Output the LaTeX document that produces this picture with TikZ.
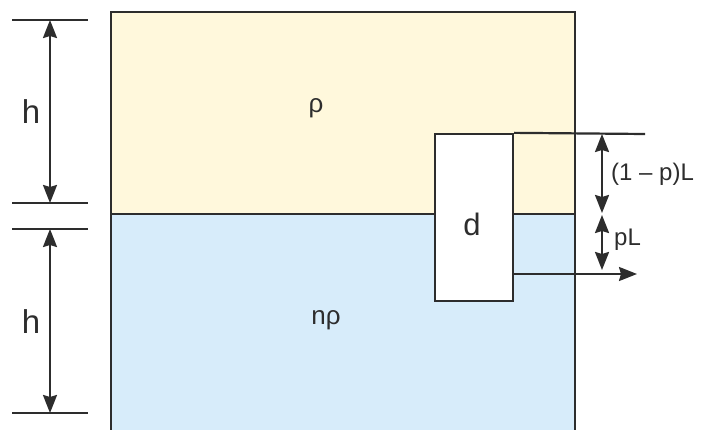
\documentclass[tikz,border=0pt]{standalone}
\usepackage{fontspec}
\setmainfont{Liberation Sans}
\usetikzlibrary{positioning,arrows.meta}
\definecolor{oil}{RGB}{255,248,220}
\definecolor{water}{RGB}{215,236,250}
\definecolor{ink}{RGB}{45,45,45}
\tikzset{
  wall/.style = {draw=ink, line width=2.3pt},
  tick/.style = {draw=ink, line width=2.2pt},
  dim/.style = {draw=ink, line width=2.2pt, {Stealth[length=18pt,width=14pt,inset=2pt]}-{Stealth[length=18pt,width=14pt,inset=2pt]}},
  flowarrow/.style = {draw=ink, line width=2.2pt, -{Stealth[length=18pt,width=14pt,inset=2pt]}},
  blockbox/.style = {draw=ink, line width=2.3pt, fill=white, minimum width=78pt, minimum height=167pt, inner sep=0pt},
  lbl/.style = {text=ink, inner sep=0pt, font=\fontsize{24}{28}\selectfont}
}
\begin{document}
\begin{tikzpicture}[x=1pt,y=-1pt]
        \useasboundingbox (0,0) rectangle (717,430);
        %Liquids
        \fill[oil] (111,12) rectangle (575,214);
        \fill[water] (111,214) rectangle (575,430);
        \draw[wall] (111,430) -- (111,12) -- (575,12) -- (575,430);
        \draw[wall] (111,214) -- (575,214);
        \node [lbl, font=\fontsize{26}{30}\selectfont] (rho1) at (316,108) {ρ};
        \node [lbl, font=\fontsize{26}{30}\selectfont] (rho2) at (326,320) {nρ};
        %Block
        \node [blockbox] (block) at (474,217.5) {};
        \node [lbl, font=\fontsize{31}{35}\selectfont] (dlabel) at (472,224) {d};
        %Left heights
        \coordinate (t1) at (12,20);  \coordinate (t1e) at (88,20);
        \coordinate (t2) at (12,203); \coordinate (t2e) at (88,203);
        \coordinate (t3) at (12,229); \coordinate (t3e) at (88,229);
        \coordinate (t4) at (12,413); \coordinate (t4e) at (88,413);
        \draw[tick] (t1) -- (t1e);
        \draw[tick] (t2) -- (t2e);
        \draw[tick] (t3) -- (t3e);
        \draw[tick] (t4) -- (t4e);
        \draw[dim] (50,20) -- (50,203);
        \draw[dim] (50,229) -- (50,413);
        \node [lbl, font=\fontsize{33}{37}\selectfont] (h1) at (31,112) {h};
        \node [lbl, font=\fontsize{33}{37}\selectfont] (h2) at (31,322) {h};
        %Right lengths
        \coordinate (topend) at (645,134);
        \coordinate (flow) at (637,274);
        \draw[tick] (block.north east) -- (topend);
        \draw[dim] (602,134) -- (602,213);
        \draw[dim] (602,215) -- (602,270);
        \draw[flowarrow] (block.east |- flow) -- (flow);
        \node [lbl, anchor=west] (upper) at (611,174) {(1 – p)L};
        \node [lbl, anchor=west] (lower) at (614,240) {pL};
\end{tikzpicture}
\end{document}
